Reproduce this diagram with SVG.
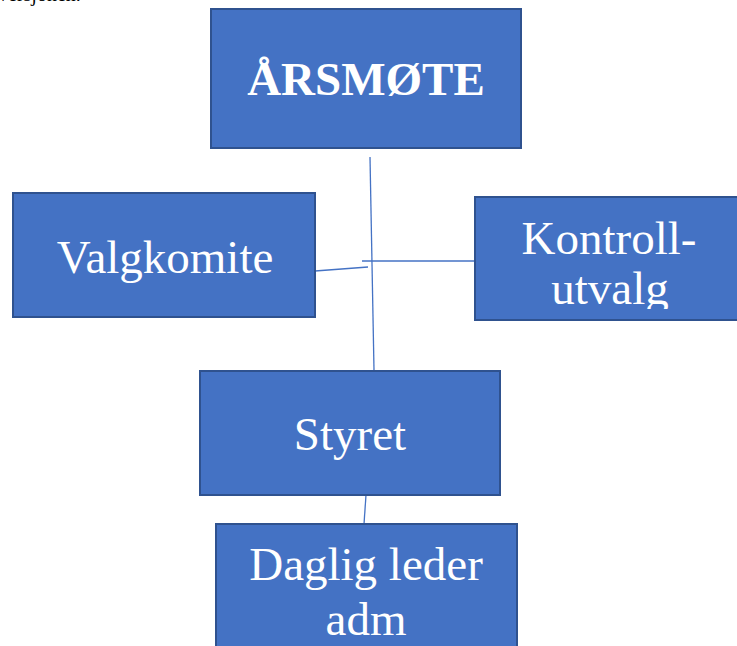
<svg xmlns="http://www.w3.org/2000/svg" width="737" height="646" viewBox="0 0 737 646">
<style>
.box{fill:#4472C4;stroke:#2F528F;stroke-width:2}
.lbl{font-family:"Liberation Serif","Times New Roman",serif;font-size:47px;fill:#FFFFFF;text-anchor:middle}
.b{font-weight:bold}
.conn{stroke:#4472C4;stroke-width:1.3;fill:none}
</style>
<defs>
<clipPath id="kclip"><rect x="475" y="197" width="262" height="112"/></clipPath>
</defs>
<rect x="0" y="0" width="737" height="646" fill="#FFFFFF"/>
<text x="-2" y="1" font-family="Liberation Serif, serif" font-size="20" fill="#000000">versjonen.</text>
<g id="connectors">
<line class="conn" x1="370" y1="157" x2="374" y2="370"/>
<line class="conn" x1="362" y1="261" x2="475" y2="261"/>
<line class="conn" x1="315" y1="271" x2="368" y2="267"/>
<line class="conn" x1="366" y1="495" x2="364" y2="524"/>
</g>
<g id="arsmote">
<rect class="box" x="211" y="9" width="310" height="139"/>
<text class="lbl b" x="366" y="95">ÅRSMØTE</text>
</g>
<g id="valgkomite">
<rect class="box" x="13" y="193" width="302" height="124"/>
<text class="lbl" x="165" y="273">Valgkomite</text>
</g>
<g id="kontrollutvalg">
<rect class="box" x="475" y="197" width="266" height="123"/>
<g clip-path="url(#kclip)">
<text class="lbl" x="609" y="254">Kontroll-</text>
<text class="lbl" x="610" y="304">utvalg</text>
</g>
</g>
<g id="styret">
<rect class="box" x="200" y="371" width="300" height="124"/>
<text class="lbl" x="350" y="450">Styret</text>
</g>
<g id="daglig">
<rect class="box" x="216" y="524" width="301" height="130"/>
<text class="lbl" x="366" y="580">Daglig leder</text>
<text class="lbl" x="366" y="635">adm</text>
</g>
</svg>
